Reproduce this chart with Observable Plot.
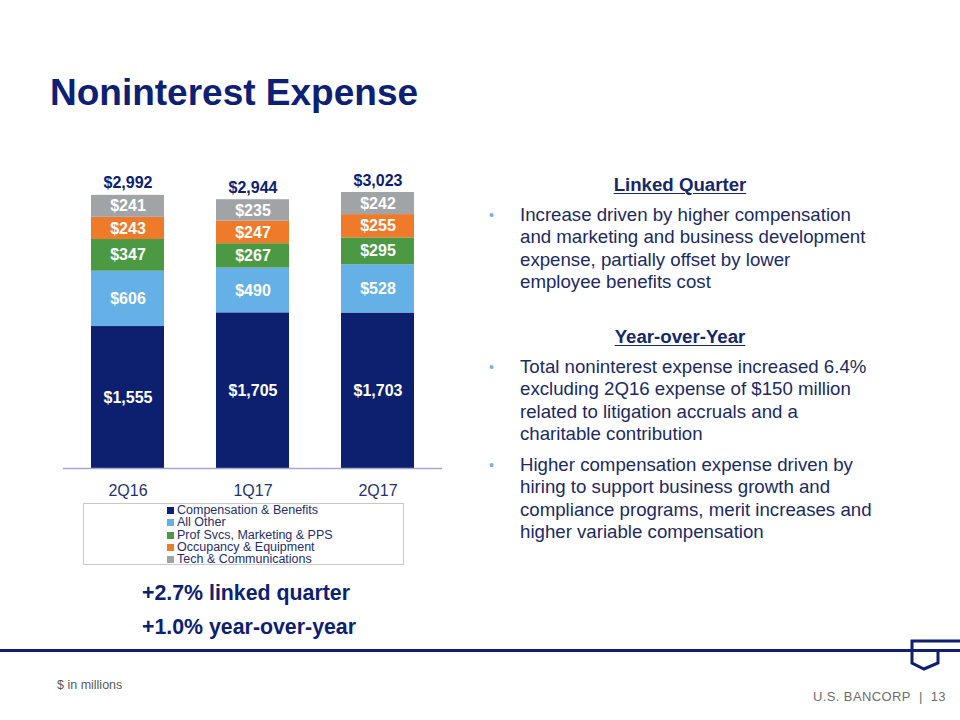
<!DOCTYPE html>
<html>
<head>
<meta charset="utf-8">
<script src="https://cdn.jsdelivr.net/npm/d3@7"></script>
<script src="https://cdn.jsdelivr.net/npm/@observablehq/plot@0.6"></script>
<style>
  body { margin: 0; background: #fff; }
  #page { position: relative; width: 960px; height: 720px; overflow: hidden; background: #fff;
          font-family: "Liberation Sans", Arial, Helvetica, sans-serif; }
  .abs { position: absolute; white-space: nowrap; }
  #title { left: 50px; top: 74px; font-size: 37px; line-height: 37px; font-weight: bold; color: #0c2074; }
  #chart { left: 0; top: 150px; }
  .head { left: 580px; width: 200px; text-align: center; font-size: 18.67px; line-height: 22.4px;
          font-weight: bold; color: #17276b; text-decoration: underline; text-underline-offset: 2px; }
  .para { left: 520px; font-size: 18.67px; line-height: 22.4px; color: #1b2a62; }
  .bullet { left: 489px; font-size: 14px; line-height: 22.4px; color: #74b0e0; }
  #legend { left: 83px; top: 503px; width: 321px; height: 62px; border: 1px solid #c9c9c9; box-sizing: border-box; }
  #legend .item { position: absolute; left: 83px; font-size: 12.5px; line-height: 12.4px; color: #1f2d6b; white-space: nowrap; }
  #legend .sw { display: inline-block; width: 7px; height: 7px; margin-right: 3px; vertical-align: 0px; }
  .pct { left: 142px; font-size: 21.33px; line-height: 26px; font-weight: bold; color: #0c2074; }
  #rule { left: 0; top: 649px; width: 960px; height: 3px; background: #0d1f6e; }
  #note { left: 57px; top: 677px; font-size: 12.5px; line-height: 16px; color: #595959; }
  #brand { right: 14px; top: 689px; font-size: 13px; line-height: 16px; color: #6d6d6d; letter-spacing: 0.4px; }
  #logo { left: 900px; top: 634px; }
</style>
</head>
<body>
<div id="page">
  <div id="title" class="abs">Noninterest Expense</div>
  <div id="chart" class="abs"></div>

  <div class="abs head" style="top:174px">Linked Quarter</div>
  <div class="abs bullet" style="top:204px">•</div>
  <div class="abs para" style="top:204px">Increase driven by higher compensation<br>and marketing and business development<br>expense, partially offset by lower<br>employee benefits cost</div>

  <div class="abs head" style="top:326px">Year-over-Year</div>
  <div class="abs bullet" style="top:356px">•</div>
  <div class="abs para" style="top:356px">Total noninterest expense increased 6.4%<br>excluding 2Q16 expense of $150 million<br>related to litigation accruals and a<br>charitable contribution</div>
  <div class="abs bullet" style="top:454px">•</div>
  <div class="abs para" style="top:454px">Higher compensation expense driven by<br>hiring to support business growth and<br>compliance programs, merit increases and<br>higher variable compensation</div>

  <div id="legend" class="abs"></div>

  <div class="abs pct" style="top:580px">+2.7% linked quarter</div>
  <div class="abs pct" style="top:614px">+1.0% year-over-year</div>

  <div id="rule" class="abs"></div>
  <svg id="logo" class="abs" width="60" height="40" viewBox="0 0 60 40">
    <path d="M60,7 H12 V29 L24,35 L38,29 V16" fill="none" stroke="#0d1f6e" stroke-width="3" stroke-linejoin="miter"/>
  </svg>
  <div id="note" class="abs">$ in millions</div>
  <div id="brand" class="abs">U.S. BANCORP&nbsp;&nbsp;|&nbsp;&nbsp;13</div>
</div>

<script>
// ---- data ----
const quarters = ["2Q16", "1Q17", "2Q17"];
const categories = [
  "Compensation & Benefits",
  "All Other",
  "Prof Svcs, Marketing & PPS",
  "Occupancy & Equipment",
  "Tech & Communications"
];
const colors = ["#0d1f6f", "#65b0e6", "#4b9a43", "#ee7a2a", "#a0a4a7"];
const compensation = [1555, 1705, 1703];
const allOther = [606, 490, 528];
const profSvcs = [347, 267, 295];
const occupancy = [243, 247, 255];
const tech = [241, 235, 242];
const totals = [2992, 2944, 3023];

// ---- build table ----
const series = [compensation, allOther, profSvcs, occupancy, tech];
const data = [];
categories.forEach((c, i) => quarters.forEach((q, j) => data.push({quarter: q, category: c, value: series[i][j]})));
const totalRows = quarters.map((q, j) => ({quarter: q, total: totals[j]}));
const fmt = v => "$" + d3.format(",")(v);
const font = '"Liberation Sans", Arial, Helvetica, sans-serif';

const chart = Plot.plot({
  width: 480,
  height: 360,
  marginLeft: 63,
  marginRight: 38,
  marginTop: 20,
  marginBottom: 42,
  style: {fontFamily: font, background: "transparent", color: "#1f2f6f", overflow: "visible"},
  x: {domain: quarters, paddingInner: 0.42, paddingOuter: 0.214, label: null},
  y: {domain: [0, 3264], axis: null},
  color: {domain: categories, range: colors},
  marks: [
    Plot.barY(data, {x: "quarter", y: "value", fill: "category", order: categories}),
    Plot.text(data, Plot.stackY({
      x: "quarter", y: "value", z: "category", order: categories,
      text: d => fmt(d.value), fill: "white", fontWeight: "bold", fontSize: 16
    })),
    Plot.text(totalRows, {
      x: "quarter", y: "total", text: d => fmt(d.total), dy: -12,
      fill: "#0c2074", fontWeight: "bold", fontSize: 16
    }),
    Plot.ruleY([0], {stroke: "#a4a6cb", strokeWidth: 1.5}),
    Plot.axisX({tickSize: 0, tickPadding: 16, fontSize: 16, fill: "#1f3272", label: null})
  ]
});
document.getElementById("chart").appendChild(chart);

// ---- legend ----
const legend = document.getElementById("legend");
categories.forEach((c, i) => {
  const it = document.createElement("div");
  it.className = "item";
  it.style.top = (i * 12.3) + "px";
  const sw = document.createElement("span");
  sw.className = "sw";
  sw.style.background = colors[i];
  it.appendChild(sw);
  it.appendChild(document.createTextNode(c));
  legend.appendChild(it);
});
</script>
</body>
</html>
